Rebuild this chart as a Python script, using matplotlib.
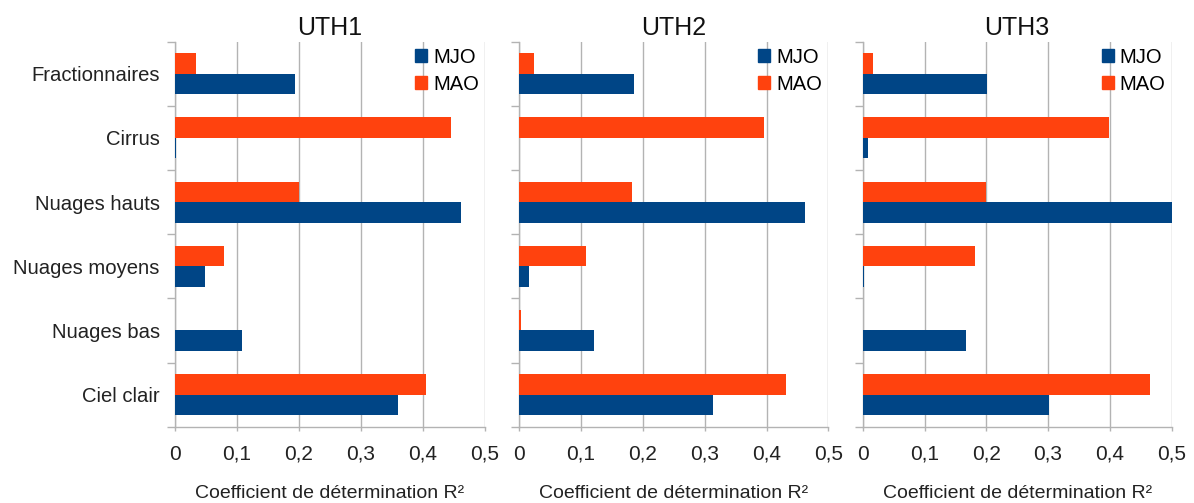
import numpy as np
import matplotlib
matplotlib.use("Agg")
import matplotlib.pyplot as plt
from matplotlib.ticker import FuncFormatter, FixedLocator
from matplotlib.patches import Patch

plt.rcParams['font.family'] = ['Liberation Sans', 'DejaVu Sans']

categories = ["Fractionnaires", "Cirrus", "Nuages hauts", "Nuages moyens", "Nuages bas", "Ciel clair"]
panels = ["UTH1", "UTH2", "UTH3"]

# R² values, categories top to bottom
mjo_uth1 = [0.194, 0.002, 0.462, 0.049, 0.108, 0.359]
mao_uth1 = [0.034, 0.445, 0.200, 0.079, 0.000, 0.405]
mjo_uth2 = [0.186, 0.000, 0.463, 0.015, 0.121, 0.313]
mao_uth2 = [0.023, 0.396, 0.183, 0.108, 0.002, 0.432]
mjo_uth3 = [0.201, 0.009, 0.500, 0.002, 0.167, 0.302]
mao_uth3 = [0.017, 0.398, 0.200, 0.181, 0.000, 0.465]

mjo_all = [mjo_uth1, mjo_uth2, mjo_uth3]
mao_all = [mao_uth1, mao_uth2, mao_uth3]

c_mjo = "#004586"
c_mao = "#ff420e"
c_grid = "#b3b3b3"

W, H = 1194, 503
fig = plt.figure(figsize=(W / 100, H / 100), dpi=100)
lefts = [175, 519.3, 862.7]
widths = [310, 309, 309]
top, bottom = 41.7, 426.7

y = np.arange(len(categories))
h = 0.32

for k in range(3):
    ax = fig.add_axes([lefts[k] / W, (H - bottom) / H, widths[k] / W, (bottom - top) / H])
    ax.barh(y - h / 2, mao_all[k], height=h, color=c_mao, label="MAO", zorder=3)
    ax.barh(y + h / 2, mjo_all[k], height=h, color=c_mjo, label="MJO", zorder=3)
    ax.set_xlim(0, 0.5)
    ax.set_ylim(len(categories) - 0.5, -0.5)
    ax.set_xticks(np.arange(0, 0.51, 0.1))
    ax.xaxis.set_major_formatter(FuncFormatter(lambda v, p: ("%g" % round(v, 2)).replace(".", ",")))
    ax.grid(axis="x", color=c_grid, linewidth=1)
    ax.set_axisbelow(True)
    for s in ["top", "right"]:
        ax.spines[s].set_visible(False)
    for s in ["left", "bottom"]:
        ax.spines[s].set_color(c_grid)
        ax.spines[s].set_linewidth(1)
    ax.set_yticks(y)
    ax.yaxis.set_minor_locator(FixedLocator(np.arange(-0.5, len(categories), 1.0)))
    ax.tick_params(axis="y", which="major", length=0, pad=11, labelsize=14.6, labelcolor="#222222")
    ax.tick_params(axis="y", which="minor", length=6, color=c_grid, width=1)
    ax.tick_params(axis="x", length=3, color=c_grid, width=1, pad=10, labelsize=15, labelcolor="#222222")
    if k == 0:
        ax.set_yticklabels(categories)
    else:
        ax.set_yticklabels([])
    ax.set_title(panels[k], fontsize=18, pad=5, color="#111111")
    ax.set_xlabel("Coefficient de détermination R²", fontsize=14, labelpad=15, color="#222222")
    handles = [Patch(color=c_mjo, label="MJO"), Patch(color=c_mao, label="MAO")]
    ax.legend(handles=handles, loc="upper right", frameon=False, fontsize=14.5,
              handlelength=0.6, handleheight=0.6, handletextpad=0.3,
              labelspacing=0.4, borderaxespad=0.2, borderpad=0.1)

fig.savefig("out.png", dpi=100)
